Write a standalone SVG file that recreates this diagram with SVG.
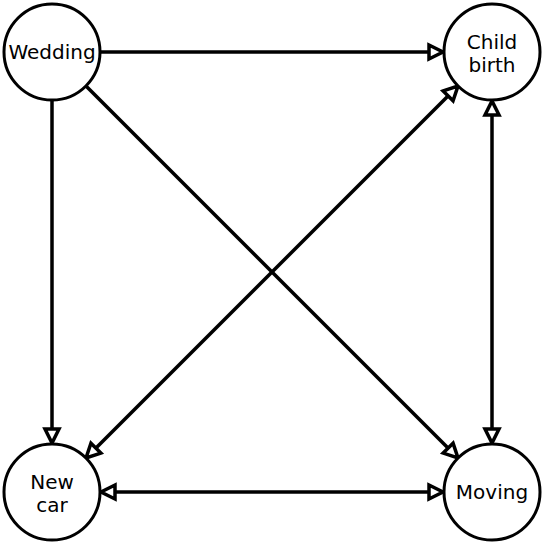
<svg xmlns="http://www.w3.org/2000/svg" width="544" height="544" viewBox="0 0 544 544">
<style>
.node circle{fill:#fff;stroke:#000;stroke-width:3}
.node text{font-family:"DejaVu Sans",sans-serif;font-size:20px;text-anchor:middle;fill:#000}
.edge{stroke:#000;stroke-width:3.5;fill:none}
</style>
<defs>
<marker id="ah" markerUnits="userSpaceOnUse" viewBox="-3 -11 22 22" refX="14" refY="0" markerWidth="22" markerHeight="22" orient="auto-start-reverse">
<path d="M0,-7 L14,0 L0,7 Z" fill="#fff" stroke="#000" stroke-width="3.5" stroke-linejoin="miter" stroke-miterlimit="3"/>
</marker>
</defs>
<rect width="544" height="544" fill="#fff"/>
<g id="connectors">
<line class="edge" x1="100" y1="52" x2="443" y2="52" marker-end="url(#ah)"/>
<line class="edge" x1="52" y1="100" x2="52" y2="443" marker-end="url(#ah)"/>
<line class="edge" x1="86" y1="86" x2="458" y2="458" marker-end="url(#ah)"/>
<line class="edge" x1="458" y1="86" x2="86" y2="458" marker-start="url(#ah)" marker-end="url(#ah)"/>
<line class="edge" x1="492" y1="101" x2="492" y2="443" marker-start="url(#ah)" marker-end="url(#ah)"/>
<line class="edge" x1="101" y1="492" x2="443" y2="492" marker-start="url(#ah)" marker-end="url(#ah)"/>
</g>
<g id="wedding" class="node"><circle cx="52" cy="52" r="48"/><text x="52" y="59">Wedding</text></g>
<g id="childbirth" class="node"><circle cx="492" cy="52" r="48"/><text x="492" y="49">Child</text><text x="492" y="72">birth</text></g>
<g id="newcar" class="node"><circle cx="52" cy="492" r="48"/><text x="52" y="489">New</text><text x="52" y="512">car</text></g>
<g id="moving" class="node"><circle cx="492" cy="492" r="48"/><text x="492" y="499">Moving</text></g>
</svg>
